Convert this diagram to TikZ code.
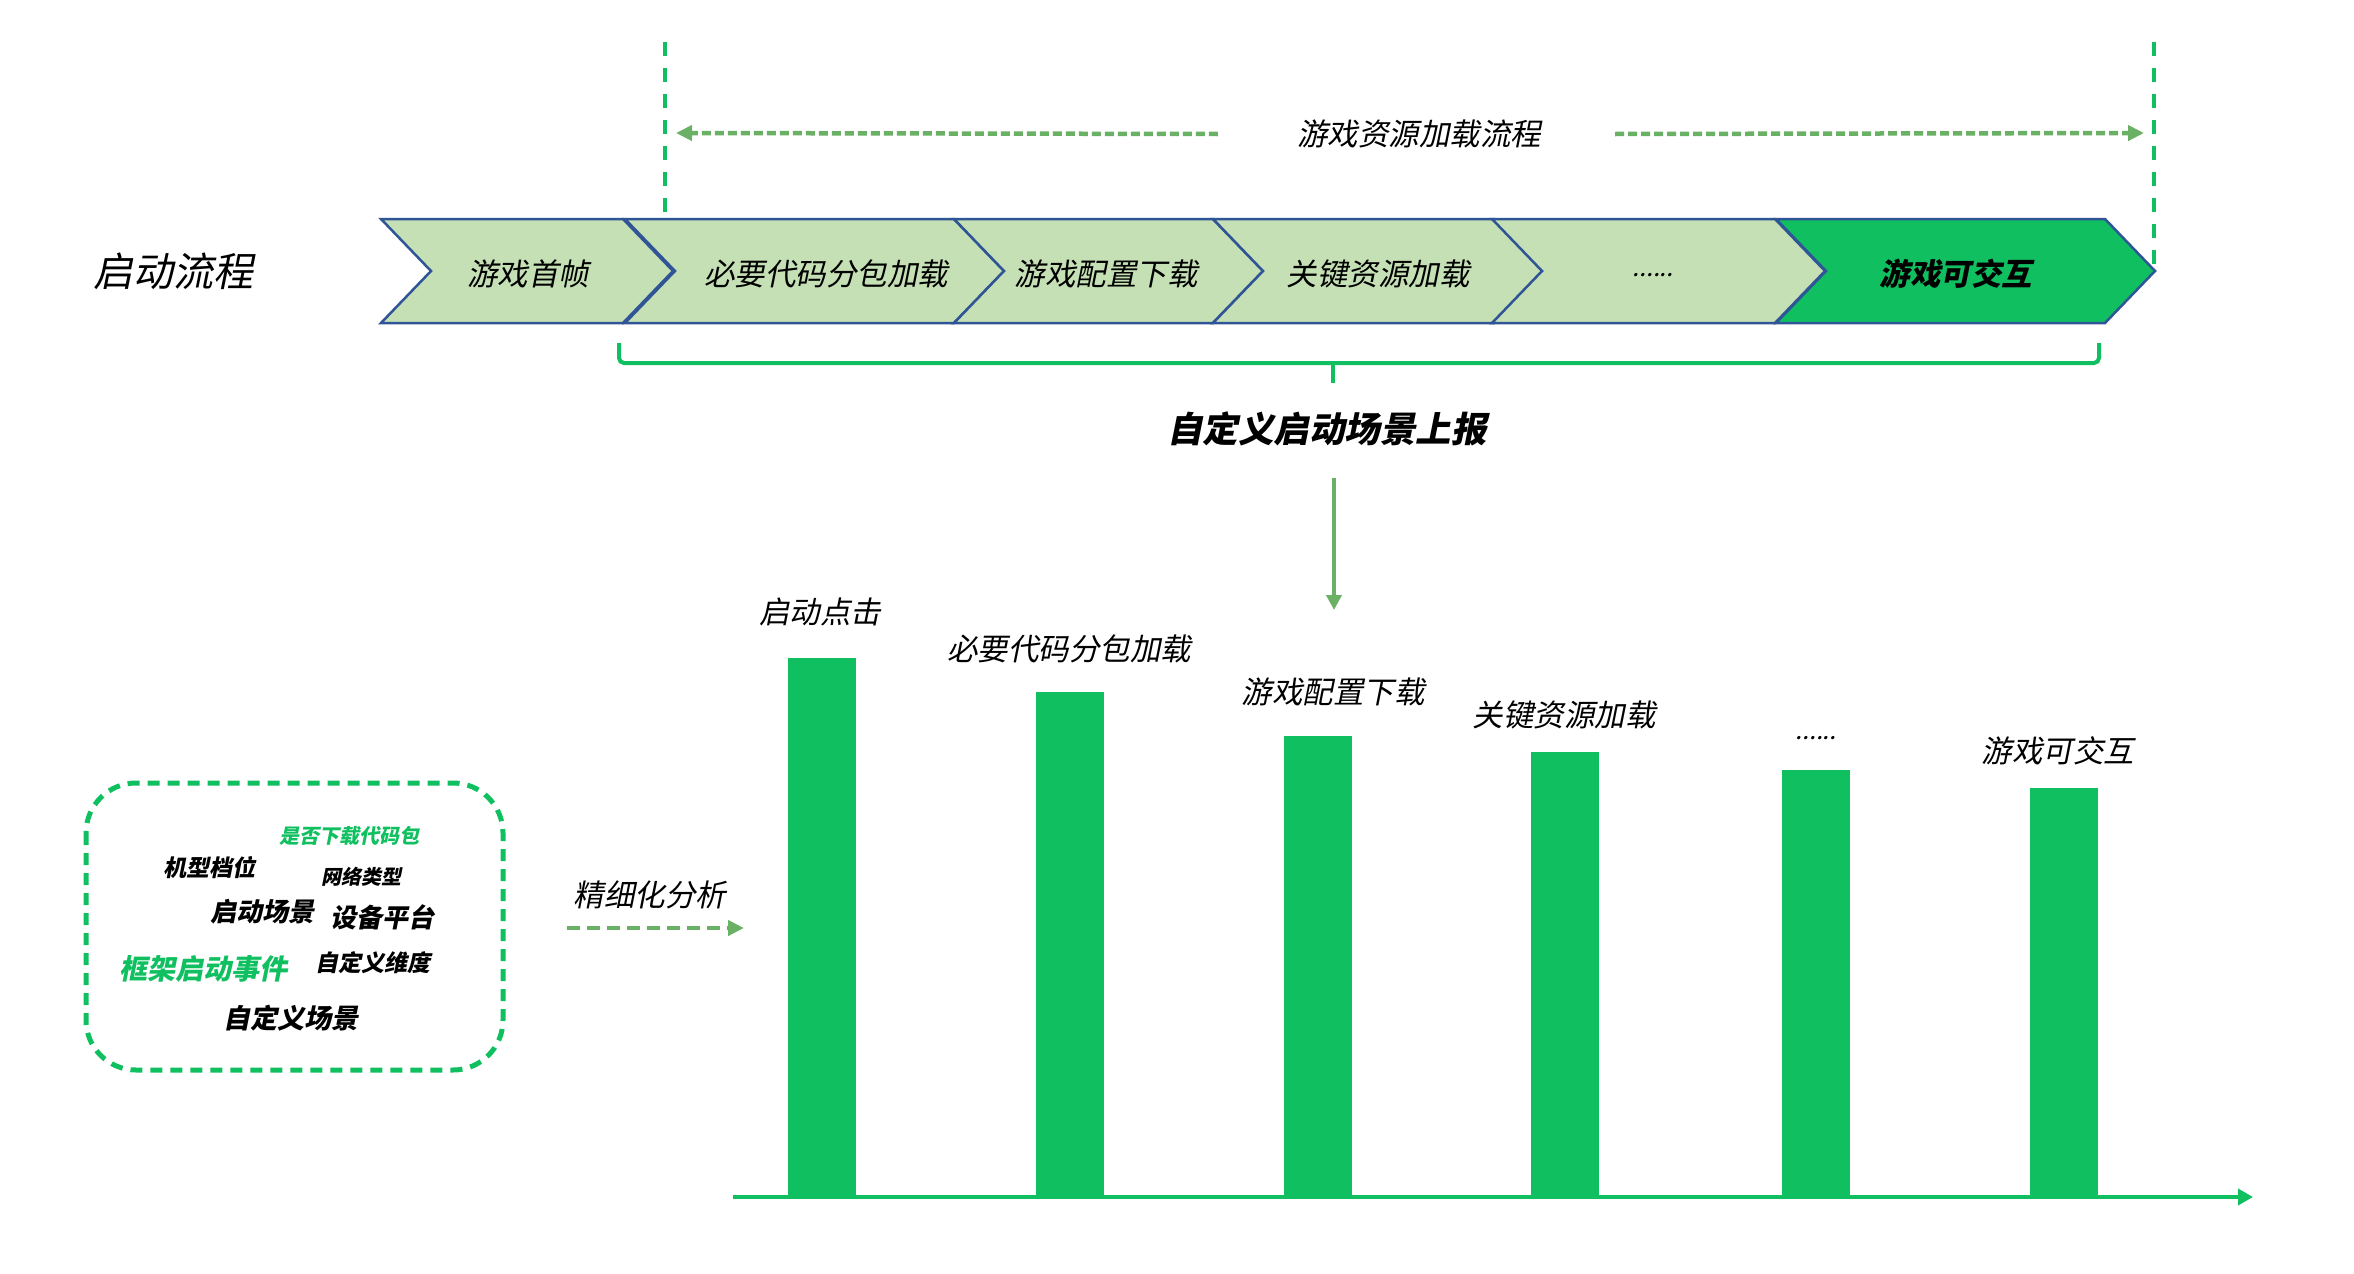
\documentclass[tikz,border=0pt]{standalone}
\usepackage{fontspec}
\usepackage{tikz}
\usetikzlibrary{arrows.meta, positioning, calc}

\newfontfamily\cjk[FakeSlant=0.2]{Noto Sans CJK SC}
\definecolor{wxgreen}{HTML}{10C060}
\definecolor{chevfill}{HTML}{C5E0B4}
\definecolor{chevedge}{HTML}{2F5597}
\definecolor{softgreen}{HTML}{6AB165}

\begin{document}
\begin{tikzpicture}[
    x=1pt, y=-1pt,
    chev/.style={draw=chevedge, fill=chevfill, line width=2.5pt, line join=miter},
    txt/.style={inner sep=0pt, font=\cjk\fontsize{#1}{#1}\selectfont},
    txt/.default=30.5,
    tag/.style={inner sep=0pt, font=\cjk\bfseries\fontsize{#1}{#1}\selectfont},
    guide/.style={draw=wxgreen, line width=3.5pt, dash pattern=on 14pt off 12pt},
    flowarrow/.style={draw=softgreen, line width=4.5pt, dash pattern=on 9pt off 4pt, -{Triangle[length=16pt, width=15pt]}},
    brace/.style={draw=wxgreen, line width=4pt},
    downarrow/.style={draw=softgreen, line width=4pt, -{Triangle[length=15pt, width=15pt]}},
    bar/.style={fill=wxgreen, minimum width=68pt, inner sep=0pt, anchor=south},
    axis/.style={draw=wxgreen, line width=4.5pt, -{Triangle[length=15pt, width=16pt]}},
    wordbox/.style={draw=wxgreen, line width=5pt, dash pattern=on 12pt off 8pt, rounded corners=50pt}
]
\useasboundingbox (0,0) rectangle (2354,1274);

% --- loading span guides
\coordinate (gLtop) at (665,42);
\coordinate (gLbot) at (665,219);
\coordinate (gRtop) at (2154,42);
\coordinate (gRbot) at (2154,272);
\draw[guide] (gLtop) -- (gLbot);
\draw[guide] (gRtop) -- (gRbot);

\node[txt] (flow) at (1419,134) {游戏资源加载流程};
\coordinate (flowL) at (676,133);
\coordinate (flowR) at (2144,133);
\draw[flowarrow] ([xshift=-79pt]flow.west) -- (flowL);
\draw[flowarrow] ([xshift=74pt]flow.east) -- (flowR);

% --- startup chevrons
\node[txt=40] (start) at (173,271) {启动流程};

\foreach \l/\r/\tx/\t/\n in {381/673/528/游戏首帧/c1, 625/1004/826/必要代码分包加载/c2,
    954/1263/1106/游戏配置下载/c3, 1213/1544/1378/关键资源加载/c4} {
  \draw[chev] (\l,219) -- (\r-50,219) -- (\r,271) -- (\r-50,323) -- (\l,323) -- (\l+50,271) -- cycle;
  \node[txt] (\n) at (\tx,274) {\t};
}
\draw[chev] (1492,219) -- (1775,219) -- (1825,271) -- (1775,323) -- (1492,323) -- (1542,271) -- cycle;
\node[txt=25] (c5) at (1653,275) {......};
\draw[chev, fill=wxgreen] (1776,219) -- (2105,219) -- (2155,271) -- (2105,323) -- (1776,323) -- (1826,271) -- cycle;
\node[tag=30.5] (c6) at (1956,274) {游戏可交互};

% --- report bracket
\draw[brace, rounded corners=5pt] (619,343) -- (619,363) -- (2099,363) -- (2099,343);
\draw[brace] (1333,363) -- (1333,383);
\node[tag=35.5] (report) at (1327,429) {自定义启动场景上报};
\coordinate (rptA) at (1334,478);
\coordinate (rptB) at (1334,610);
\draw[downarrow] (rptA) -- (rptB);

% --- dimension cloud
\draw[wordbox] (86,783) rectangle (503,1070);
\node[tag=20, text=wxgreen] (w1) at (349,836) {是否下载代码包};
\node[tag=23] (w2) at (209,868) {机型档位};
\node[tag=20] (w3) at (361,877) {网络类型};
\node[tag=26] (w4) at (262,912) {启动场景};
\node[tag=26] (w5) at (382,917) {设备平台};
\node[tag=28, text=wxgreen] (w6) at (203,969) {框架启动事件};
\node[tag=23] (w7) at (373,963) {自定义维度};
\node[tag=27] (w8) at (291,1018) {自定义场景};

\node[txt] (detail) at (650,895) {精细化分析};
\coordinate (dA) at (567,928);
\coordinate (dB) at (744,928);
\draw[flowarrow, line width=4.5pt, dash pattern=on 13pt off 7pt] (dA) -- (dB);

% --- stage bars
\coordinate (ax0) at (733,1197);
\coordinate (ax1) at (2253,1197);
\foreach \x/\top/\n in {822/658/b1, 1069.5/692/b2, 1317.5/736/b3, 1565/752/b4, 1816/770/b5, 2063.5/788/b6} {
  \node[bar, minimum height={1197-\top}] (\n) at (\x,1197) {};
}
\draw[axis] (ax0) -- (ax1);

\node[txt] (l1) at (820,612) {启动点击};
\node[txt] (l2) at (1069,649) {必要代码分包加载};
\node[txt] (l3) at (1333,692) {游戏配置下载};
\node[txt] (l4) at (1564,715) {关键资源加载};
\node[txt=25] (l5) at (1816,738) {......};
\node[txt] (l6) at (2058,751) {游戏可交互};
\end{tikzpicture}
\end{document}
